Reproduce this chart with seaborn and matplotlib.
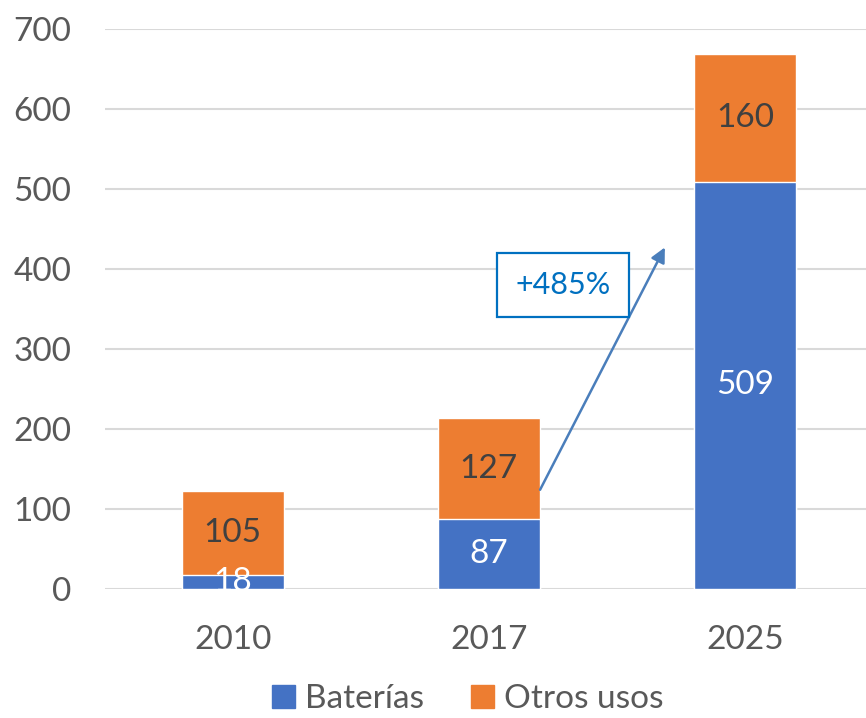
import matplotlib
matplotlib.use("Agg")
import matplotlib.pyplot as plt
import seaborn as sns
import pandas as pd
from matplotlib.patches import Patch

# data
years = ["2010", "2017", "2025"]
baterias = [18, 87, 509]
otros_usos = [105, 127, 160]
growth_label = "+485%"

BLUE = "#4472C4"
ORANGE = "#ED7D31"

sns.set_theme(style="white")
plt.rcParams["font.family"] = ["Lato", "DejaVu Sans"]

df = pd.DataFrame({"year": years, "Baterías": baterias, "Otros usos": otros_usos})
df["total"] = df["Baterías"] + df["Otros usos"]

fig = plt.figure(figsize=(8.66, 7.18), dpi=100)
ax = fig.add_axes([0.121, 0.1797, 0.879, 0.7799])

# orange total first, blue bottom on top -> stacked look
sns.barplot(data=df, x="year", y="total", color=ORANGE, width=0.4,
            saturation=1, ax=ax, zorder=2)
sns.barplot(data=df, x="year", y="Baterías", color=BLUE, width=0.4,
            saturation=1, ax=ax, zorder=3)

ax.set_ylim(0, 700)
ax.set_xlim(-0.5, 2.473)
ax.set_yticks(range(0, 701, 100))
ax.yaxis.grid(True, color="#D9D9D9", linewidth=1.5, zorder=0)
ax.set_axisbelow(True)
for s in ax.spines.values():
    s.set_visible(False)
ax.set_xlabel("")
ax.set_ylabel("")
ax.tick_params(axis="both", length=0, labelsize=24, labelcolor="#595959")
ax.tick_params(axis="y", pad=24)
ax.tick_params(axis="x", pad=26)

# value labels
for i, (b, o) in enumerate(zip(baterias, otros_usos)):
    ax.text(i, b / 2, str(b), ha="center", va="center", fontsize=24,
            color="white", zorder=4, clip_on=True)
    ax.text(i, b + o / 2, str(o), ha="center", va="center", fontsize=24,
            color="#404040", zorder=4, clip_on=True)

# growth arrow + box
ax.annotate("", xy=(1.6875, 427), xytext=(1.2, 124),
            arrowprops=dict(arrowstyle="-|>", color="#4A7EBB", lw=1.8,
                            mutation_scale=22, shrinkA=0, shrinkB=0),
            zorder=5)
ax.text(1.289, 380, growth_label, ha="center", va="center", fontsize=22,
        color="#0070C0", zorder=6,
        bbox=dict(boxstyle="square,pad=0.6", fc="white", ec="#0070C0", lw=1.6))

handles = [Patch(color=BLUE, label="Baterías"), Patch(color=ORANGE, label="Otros usos")]
fig.legend(handles=handles, loc="lower center", ncol=2, frameon=False,
           fontsize=24, bbox_to_anchor=(0.54, -0.036), handlelength=0.7,
           handleheight=0.7, handletextpad=0.3, columnspacing=1.4,
           labelcolor="#595959")

fig.savefig("out.png", dpi=100)
